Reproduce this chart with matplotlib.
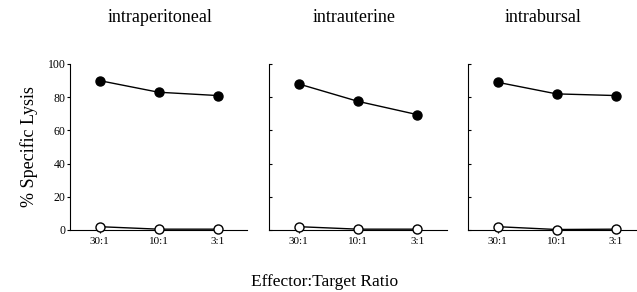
import numpy as np
import matplotlib.pyplot as plt

plt.rcParams['font.family'] = ['Liberation Serif', 'DejaVu Serif']

ratios = ['30:1', '10:1', '3:1']
routes = ['intraperitoneal', 'intrauterine', 'intrabursal']
# filled circles (target) and open circles (control), % specific lysis
lysis_filled = [[90, 83, 81], [88, 77.5, 69.5], [89, 82, 81]]
lysis_open = [[2, 0.5, 0.5], [2, 0.5, 0.5], [2, 0.3, 0.5]]

fig = plt.figure(figsize=(6.37, 2.92), dpi=100)
W, H = 637.0, 292.0
# axes boxes in pixels: left, right, title centre
boxes = [(70, 247, 160), (269, 447, 354), (468, 645, 543)]
top, bottom = 64, 230

x = np.arange(len(ratios))
for i, (l, r, tc) in enumerate(boxes):
    ax = fig.add_axes([l / W, 1 - bottom / H, (r - l) / W, (bottom - top) / H])
    ax.plot(x, lysis_filled[i], '-o', color='black', lw=1.0, ms=6.5,
            mfc='black', mec='black', clip_on=False, zorder=3)
    ax.plot(x, lysis_open[i], '-o', color='black', lw=1.0, ms=6.5,
            mfc='white', mec='black', mew=1.0, clip_on=False, zorder=3)
    ax.set_xlim(-0.5, 2.5)
    ax.set_ylim(0, 100)
    ax.spines['top'].set_visible(False)
    ax.spines['right'].set_visible(False)
    ax.set_xticks(x)
    ax.set_xticklabels(ratios, fontsize=8)
    ax.set_yticks([0, 20, 40, 60, 80, 100])
    ax.tick_params(axis='x', length=2, width=0.8, pad=3)
    ax.tick_params(axis='y', length=2, width=0.8, pad=1, labelsize=8.5)
    if i > 0:
        ax.tick_params(axis='y', labelleft=False, direction='in')
    else:
        ax.set_ylabel('% Specific Lysis', fontsize=13, labelpad=7)
    fig.text(tc / W, 1 - 18 / H, routes[i], ha='center', va='center',
             fontsize=13)

fig.text(325 / W, 1 - 282 / H, 'Effector:Target Ratio', ha='center',
         va='center', fontsize=12.5)
fig.savefig('out.png', dpi=100)
